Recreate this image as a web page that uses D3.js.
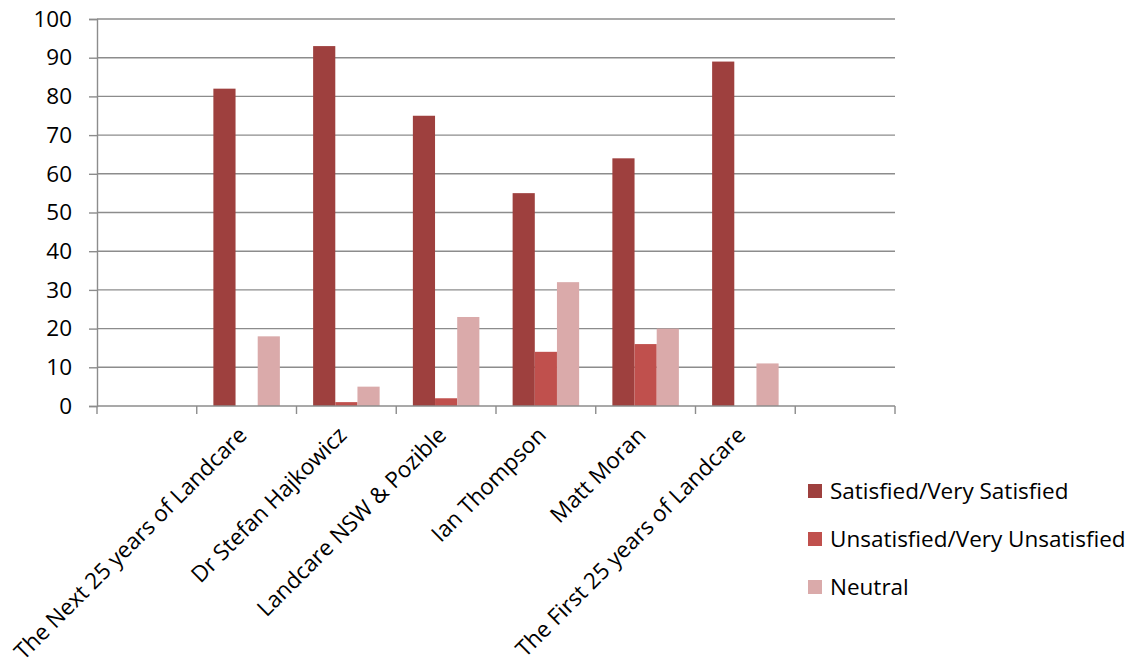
<!DOCTYPE html>
<html>
<head>
<meta charset="utf-8">
<script src="https://cdn.jsdelivr.net/npm/d3@7"></script>
<style>
  html, body { margin: 0; padding: 0; background: #fff; }
  svg { display: block; font-family: "Open Sans", sans-serif; }
</style>
</head>
<body>
<svg id="chart" width="1142" height="668"></svg>
<script>
// Session feedback: share of respondents per rating (%)
const categories = ["", "The Next 25 years of Landcare", "Dr Stefan Hajkowicz", "Landcare NSW & Pozible",
  "Ian Thompson", "Matt Moran", "The First 25 years of Landcare", " "];
const seriesNames = ["Satisfied/Very Satisfied", "Unsatisfied/Very Unsatisfied", "Neutral"];
const satisfied   = [null, 82, 93, 75, 55, 64, 89, null];
const unsatisfied = [null, 0, 1, 2, 14, 16, 0, null];
const neutral     = [null, 18, 5, 23, 32, 20, 11, null];
const yTicks = [0, 10, 20, 30, 40, 50, 60, 70, 80, 90, 100];
const colors = ["#9E403E", "#C0504D", "#DAAAAA"];

const seriesValues = [satisfied, unsatisfied, neutral];
const FONT = 22.5;

const svg = d3.select("#chart");
const margin = { left: 97, right: 247, top: 19, bottom: 262 };
const W = 1142, H = 668;
const x0 = margin.left, x1 = W - margin.right, y0 = H - margin.bottom, y1 = margin.top;

const x = d3.scaleBand().domain(categories).range([x0, x1]).paddingInner(0).paddingOuter(0);
const y = d3.scaleLinear().domain([0, 100]).range([y0, y1]);
// Gap width of 150%: three bars plus 1.5 bar-widths of gap per category
const inner = d3.scaleBand().domain(d3.range(seriesNames.length))
  .range([0, x.bandwidth()]).paddingInner(0).paddingOuter(0.75);

const gridColor = "#8C8C8C";

// Horizontal gridlines
svg.append("g").selectAll("line").data(yTicks.slice(1)).join("line")
  .attr("x1", x0).attr("x2", x1)
  .attr("y1", d => y(d)).attr("y2", d => y(d))
  .attr("stroke", gridColor).attr("stroke-width", 1.4);

// Bars
const groups = svg.append("g").selectAll("g").data(seriesValues).join("g")
  .attr("fill", (d, i) => colors[i]);
groups.each(function (vals, si) {
  d3.select(this).selectAll("rect")
    .data(categories.map((c, ci) => ({ c, v: vals[ci] })).filter(d => d.v !== null && d.v > 0))
    .join("rect")
    .attr("x", d => x(d.c) + inner(si))
    .attr("width", inner.bandwidth())
    .attr("y", d => y(d.v))
    .attr("height", d => y(0) - y(d.v));
});

// Y axis
const yAxis = svg.append("g").attr("transform", `translate(${x0},0)`)
  .call(d3.axisLeft(y).tickValues(yTicks).tickSize(8).tickPadding(17).tickFormat(d3.format("d")));
yAxis.select(".domain").attr("stroke", gridColor).attr("stroke-width", 1.4);
yAxis.selectAll(".tick line").attr("stroke", gridColor).attr("stroke-width", 1.4);
yAxis.selectAll("text").attr("font-size", FONT).attr("fill", "#000").attr("font-family", "Open Sans");

// X axis baseline with tick marks at category boundaries
const xg = svg.append("g");
xg.append("line").attr("x1", x0).attr("x2", x1).attr("y1", y0).attr("y2", y0)
  .attr("stroke", gridColor).attr("stroke-width", 1.4);
const bounds = categories.map(c => x(c)).concat([x1]);
xg.selectAll("line.tk").data(bounds).join("line").attr("class", "tk")
  .attr("x1", d => d).attr("x2", d => d).attr("y1", y0).attr("y2", y0 + 8)
  .attr("stroke", gridColor).attr("stroke-width", 1.4);

// Rotated category labels
xg.selectAll("text").data(categories.filter(c => c.trim() !== "")).join("text")
  .attr("transform", d => `translate(${x(d) + x.bandwidth() / 2 - 4},${y0 + 25}) rotate(-45)`)
  .attr("text-anchor", "end")
  .attr("dy", "0.35em")
  .attr("font-size", FONT)
  .attr("fill", "#000")
  .text(d => d);

// Legend
const legend = svg.append("g").attr("transform", "translate(808,484)");
const li = legend.selectAll("g").data(seriesNames).join("g")
  .attr("transform", (d, i) => `translate(0,${i * 48})`);
li.append("rect").attr("width", 14).attr("height", 14).attr("fill", (d, i) => colors[i]);
li.append("text").attr("x", 22).attr("y", 7).attr("dy", "0.35em")
  .attr("font-size", FONT).attr("fill", "#000").text(d => d);
</script>
</body>
</html>
